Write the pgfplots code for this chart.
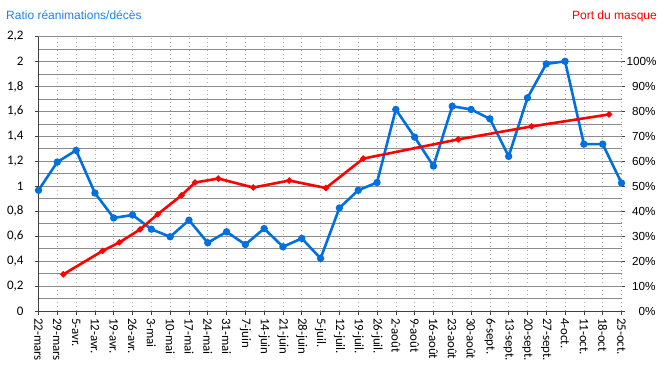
\documentclass[border=0pt]{standalone}
\usepackage{fontspec}
\setmainfont{Carlito}
\newfontfamily\arial{Liberation Sans}
\usepackage{pgfplots}
\pgfplotsset{compat=1.18}
\definecolor{myblue}{RGB}{0,112,224}
\definecolor{titleblue}{RGB}{30,130,235}
\definecolor{gridgray}{RGB}{140,140,140}
\definecolor{dotgray}{RGB}{175,175,175}
\begin{document}
\begin{tikzpicture}
\path[use as bounding box] (-38.5bp,-67bp) rectangle (627.5bp,311bp);
\begin{axis}[
  at={(0,0)}, anchor=south west,
  scale only axis, width=583bp, height=274.4bp,
  xmin=0, xmax=31, ymin=0, ymax=2.2,
  axis x line*=bottom, axis y line*=left,
  axis line style={-, black!75, line width=0.8bp},
  xtick={0,...,31},
  xticklabels={22-mars,29-mars,5-avr.,12-avr.,19-avr.,26-avr.,3-mai,10-mai,17-mai,24-mai,31-mai,7-juin,14-juin,21-juin,28-juin,5-juil.,12-juil.,19-juil.,26-juil.,2-août,9-août,16-août,23-août,30-août,6-sept.,13-sept.,20-sept.,27-sept.,4-oct.,11-oct.,18-oct,25-oct.},
  xticklabel style={rotate=-90, anchor=west, font=\fontsize{12.9bp}{14bp}\selectfont, xshift=0bp},
  ytick={0,0.2,0.4,0.6,0.8,1,1.2,1.4,1.6,1.8,2,2.2},
  minor ytick={0.1,0.3,0.5,0.7,0.9,1.1,1.3,1.5,1.7,1.9,2.1},
  yticklabel style={font=\fontsize{13bp}{15bp}\selectfont, xshift=-8bp},
  /pgf/number format/use comma,
  /pgf/number format/assume math mode=true,
  xtick pos=left, ytick pos=left,
  tick align=outside, major tick length=3.5bp, minor tick length=0pt,
  tick style={black!75, line width=0.6bp},
  xmajorgrids, ymajorgrids, yminorgrids,
  x grid style={dotgray, dash pattern=on 0.8bp off 3.2bp, line width=0.6bp},
  y grid style={gridgray, line width=0.8bp},
  minor y grid style={gridgray, line width=0.8bp},
  clip=false,
]
\addplot[myblue, line width=2.6bp, mark=*, mark size=2.3bp] coordinates {
(0,0.968) (1,1.194) (2,1.288) (3,0.946) (4,0.746) (5,0.770) (6,0.656) (7,0.595)
(8,0.728) (9,0.547) (10,0.635) (11,0.533) (12,0.661) (13,0.515) (14,0.582) (15,0.422)
(16,0.826) (17,0.968) (18,1.030) (19,1.616) (20,1.394) (21,1.162) (22,1.642) (23,1.616)
(24,1.541) (25,1.240) (26,1.709) (27,1.981) (28,2.002) (29,1.338) (30,1.338) (31,1.026)
};
\end{axis}
\begin{axis}[
  at={(0,0)}, anchor=south west,
  scale only axis, width=583bp, height=274.4bp,
  xmin=0, xmax=31, ymin=0, ymax=110,
  hide x axis,
  axis y line*=right,
  y axis line style={draw=none},
  ytick={0,10,20,30,40,50,60,70,80,90,100},
  ytick pos=right,
  tick align=outside, major tick length=3.5bp,
  tick style={black!75, line width=0.6bp},
  /pgf/number format/assume math mode=true,
  yticklabel={\pgfmathprintnumber{\tick}\%},
  yticklabel style={font=\arial\fontsize{11.7bp}{13bp}\selectfont, text width=29bp, align=right, xshift=-2bp},
  clip=false,
]
\addplot[red, line width=2.6bp, mark=*, mark size=1.6bp] coordinates {
(1.32,14.7) (3.41,24.1) (4.30,27.5) (5.40,32.7) (6.34,38.8) (7.61,46.4) (8.32,51.5)
(9.56,53.1) (11.42,49.5) (13.33,52.3) (15.28,49.3) (17.27,61.1) (22.32,68.8)
(26.22,74.0) (30.34,78.8)
};
\end{axis}
\node[anchor=base west, inner sep=0pt, text=titleblue, font=\arial\fontsize{12bp}{14bp}\selectfont] at (-32.5bp,291bp) {Ratio réanimations/décès};
\node[anchor=base east, inner sep=0pt, text=red, font=\arial\fontsize{12bp}{14bp}\selectfont] at (618.5bp,291bp) {Port du masque};
\end{tikzpicture}
\end{document}
